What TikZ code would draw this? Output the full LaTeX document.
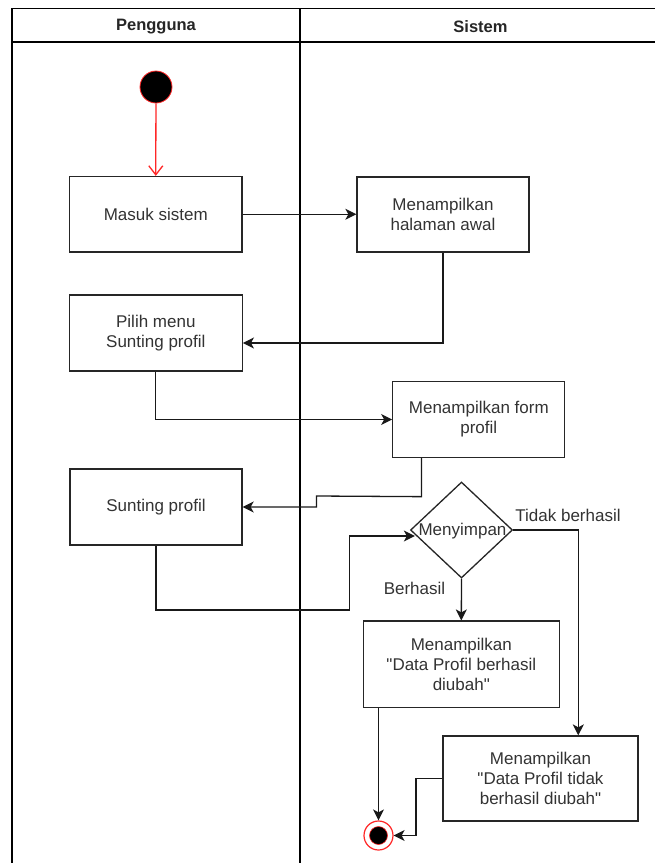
\documentclass[tikz,border=0pt]{standalone}
\usepackage{fontspec}
\setmainfont{Liberation Sans}[Ligatures=TeXOff]
\usetikzlibrary{arrows.meta,shapes.geometric,calc}

% straight double quote
\newcommand{\sq}{\symbol{34}}

\tikzset{
  lane/.style={line width=1.8pt, draw=black},
  act/.style={draw=black!85, line width=1.3pt, fill=white, rectangle,
    text=black!80, align=center, inner sep=0pt,
    font=\fontsize{17pt}{20pt}\selectfont},
  decision/.style={draw=black!85, line width=1.3pt, fill=white, diamond,
    aspect=1.06, inner sep=0pt, text=black!80,
    font=\fontsize{17pt}{20pt}\selectfont},
  flow/.style={draw=black!90, line width=1.3pt,
    -{Stealth[length=11pt,width=11pt,inset=3pt]}},
  startflow/.style={draw=red!85, line width=1.3pt,
    -{Straight Barb[length=9pt,width=14pt,line width=1.3pt]}},
  lbl/.style={text=black!80, font=\fontsize{17pt}{20pt}\selectfont, inner sep=0pt},
  headtext/.style={text=black!85, font=\fontsize{16.5pt}{20pt}\selectfont\bfseries, inner sep=0pt}
}

\begin{document}
\begin{tikzpicture}[x=1pt,y=-1pt]
  \useasboundingbox (0,0) rectangle (655,863);
  \fill[white] (0,0) rectangle (655,863);

  % swimlanes
  \draw[lane] (655,8.5) -- (12,8.5) -- (12,863);
  \draw[lane] (12,42) -- (655,42);
  \draw[lane] (300,8.5) -- (300,863);
  \node[headtext] (hpengguna) at (156,26.5) {Pengguna};
  \node[headtext] (hsistem) at (480.5,26.5) {Sistem};

  % initial and final states
  \node[circle, fill=black, draw=red!85, line width=0.8pt, minimum size=32pt, inner sep=0pt] (start) at (156,87) {};
  \node[circle, fill=white, draw=red!85, line width=1.2pt, minimum size=29pt, inner sep=0pt] (end) at (378.5,835.5) {};
  \node[circle, fill=black, draw=red!85, line width=0.6pt, minimum size=18pt, inner sep=0pt] (endcore) at (378.5,835.5) {};

  % activities
  \node[act, minimum width=172.5pt, minimum height=75.5pt] (masuk) at (155.75,214.25) {Masuk sistem};
  \node[act, minimum width=172pt, minimum height=75pt] (awal) at (443,214.5) {Menampilkan\\halaman awal};
  \node[act, minimum width=173pt, minimum height=76pt] (pilih) at (155.8,333) {Pilih menu\\Sunting profil};
  \node[act, minimum width=172pt, minimum height=75.6pt] (form) at (478.8,419.5) {Menampilkan form\\profil};
  \node[act, minimum width=172pt, minimum height=76pt] (sunting) at (156,507) {Sunting profil};
  \node[decision, minimum width=102pt, minimum height=96pt] (simpan) at (461.5,530) {};
  \node[lbl] (simpantext) at (462.5,531.5) {Menyimpan};
  \node[act, minimum width=196pt, minimum height=86.3pt] (sukses) at (461.3,664.2) {Menampilkan\\\sq Data Profil berhasil\\diubah\sq};
  \node[act, minimum width=195pt, minimum height=85pt] (gagal) at (540.5,778.5) {Menampilkan\\\sq Data Profil tidak\\berhasil diubah\sq};

  % guard labels
  \node[lbl] (ltidak) at (568,515.5) {Tidak berhasil};
  \node[lbl] (lberhasil) at (414.5,588) {Berhasil};

  % transitions
  \draw[startflow] (start) -- (masuk.north);
  \draw[flow] (masuk.east) -- (awal.west |- masuk.east);
  \draw[flow] (awal.south) |- ([yshift=-10pt]pilih.east);
  \draw[flow] (pilih.south) |- (form.west);
  \draw[flow] ([xshift=-57.3pt]form.south) -- ++(0,38.7) -- (316.5,496) |- (sunting.east);
  \draw[flow] (sunting.south) -- (156,610) -- (349.5,610) |- ($(simpan.west)+(5,6)$);
  \draw[flow] (simpan.east) -| ([xshift=37.8pt]gagal.north);
  \draw[flow] (simpan.south) -- (sukses.north);
  \draw[flow] (end.north |- sukses.south) -- (end.north);
  \draw[flow] (gagal.west) -- (416,778.5) |- (end.east);
\end{tikzpicture}
\end{document}
